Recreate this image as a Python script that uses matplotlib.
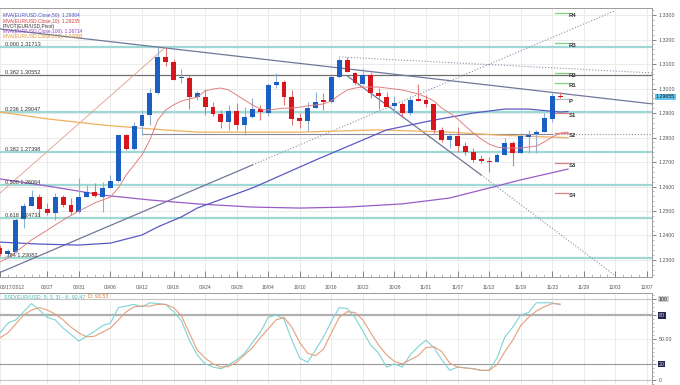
import matplotlib
matplotlib.use("Agg")
import matplotlib.pyplot as plt
from matplotlib.ticker import MultipleLocator

plt.rcParams['font.family'] = ['Liberation Sans', 'DejaVu Sans']

# x axis labels (bar index -> label)
tick_pos = [0, 6, 10, 14, 18, 22, 26, 30, 34, 38, 42, 46, 50, 54, 58, 62, 66, 70, 74, 78, 82]
tick_labels = ["08/17/2012", "08/27", "08/31", "09/06", "09/12", "09/18", "09/24", "09/28",
               "10/04", "10/10", "10/16", "10/22", "10/26", "11/01", "11/07", "11/13",
               "11/19", "11/23", "11/29", "12/03", "12/07"]

# daily candles EUR/USD, 08/17 .. 11/26
opens = [1.2349, 1.2325, 1.2333, 1.2467, 1.2520, 1.2557, 1.2508, 1.2492, 1.2557, 1.2524,
         1.2496, 1.2557, 1.2578, 1.2557, 1.2594, 1.2622, 1.2810, 1.2753, 1.2847, 1.2892,
         1.2982, 1.3128, 1.3108, 1.3043, 1.3043, 1.2965, 1.2967, 1.2924, 1.2896, 1.2863,
         1.2908, 1.2851, 1.2884, 1.2916, 1.2900, 1.3014, 1.3026, 1.2965, 1.2880, 1.2868,
         1.2920, 1.2953, 1.2945, 1.3047, 1.3116, 1.3063, 1.3018, 1.3055, 1.2982, 1.2967,
         1.2929, 1.2937, 1.2900, 1.2957, 1.2953, 1.2937, 1.2831, 1.2790, 1.2806, 1.2765,
         1.2741, 1.2712, 1.2704, 1.2700, 1.2729, 1.2778, 1.2737, 1.2802, 1.2814, 1.2822,
         1.2876, 1.2970]
highs = [1.2361, 1.2345, 1.2471, 1.2531, 1.2586, 1.2569, 1.2533, 1.2573, 1.2565, 1.2553,
         1.2635, 1.2606, 1.2614, 1.2618, 1.2647, 1.2812, 1.2814, 1.2863, 1.2912, 1.3002,
         1.3169, 1.3171, 1.3120, 1.3080, 1.3055, 1.2990, 1.2998, 1.2945, 1.2912, 1.2933,
         1.2941, 1.2925, 1.2961, 1.2933, 1.3022, 1.3063, 1.3035, 1.2994, 1.2900, 1.2945,
         1.2986, 1.2982, 1.3055, 1.3124, 1.3128, 1.3067, 1.3084, 1.3067, 1.3002, 1.2986,
         1.2969, 1.2945, 1.2969, 1.3018, 1.2973, 1.2937, 1.2843, 1.2818, 1.2843, 1.2782,
         1.2757, 1.2729, 1.2720, 1.2737, 1.2798, 1.2786, 1.2810, 1.2831, 1.2831, 1.2900,
         1.2986, 1.2986]
lows = [1.2316, 1.2308, 1.2329, 1.2431, 1.2520, 1.2480, 1.2484, 1.2463, 1.2516, 1.2484,
        1.2492, 1.2557, 1.2557, 1.2496, 1.2594, 1.2620, 1.2750, 1.2750, 1.2810, 1.2851,
        1.2978, 1.3092, 1.3035, 1.3022, 1.2916, 1.2955, 1.2892, 1.2888, 1.2839, 1.2831,
        1.2831, 1.2810, 1.2880, 1.2871, 1.2888, 1.3002, 1.2933, 1.2851, 1.2839, 1.2827,
        1.2920, 1.2912, 1.2941, 1.3043, 1.3067, 1.3014, 1.3014, 1.2961, 1.2916, 1.2924,
        1.2900, 1.2884, 1.2892, 1.2949, 1.2924, 1.2818, 1.2782, 1.2757, 1.2741, 1.2729,
        1.2700, 1.2696, 1.2659, 1.2700, 1.2729, 1.2684, 1.2737, 1.2737, 1.2737, 1.2822,
        1.2863, 1.2961]
closes = [1.2325, 1.2337, 1.2463, 1.2522, 1.2557, 1.2508, 1.2492, 1.2557, 1.2524, 1.2496,
          1.2557, 1.2578, 1.2560, 1.2594, 1.2622, 1.2810, 1.2753, 1.2847, 1.2892, 1.2982,
          1.3128, 1.3108, 1.3035, 1.3047, 1.2965, 1.2982, 1.2924, 1.2896, 1.2863, 1.2908,
          1.2851, 1.2884, 1.2916, 1.2904, 1.3014, 1.3026, 1.2965, 1.2876, 1.2868, 1.2920,
          1.2945, 1.2945, 1.3047, 1.3116, 1.3067, 1.3022, 1.3055, 1.2982, 1.2970, 1.2924,
          1.2941, 1.2900, 1.2953, 1.2949, 1.2937, 1.2831, 1.2790, 1.2806, 1.2765, 1.2741,
          1.2708, 1.2704, 1.2700, 1.2729, 1.2778, 1.2737, 1.2806, 1.2810, 1.2822, 1.2880,
          1.2969, 1.2966]

# moving averages
ma10 = [1.2292, 1.2308, 1.2333, 1.2357, 1.2382, 1.2402, 1.2422, 1.2443, 1.2463, 1.2482,
        1.2500, 1.2516, 1.2533, 1.2545, 1.2557, 1.2594, 1.2647, 1.2688, 1.2729, 1.2790,
        1.2871, 1.2912, 1.2933, 1.2949, 1.2957, 1.2965, 1.2990, 1.2998, 1.3002, 1.2994,
        1.2973, 1.2953, 1.2933, 1.2916, 1.2912, 1.2916, 1.2920, 1.2920, 1.2924, 1.2929,
        1.2933, 1.2937, 1.2949, 1.2973, 1.2994, 1.3002, 1.3006, 1.3006, 1.3006, 1.3002,
        1.2998, 1.2994, 1.2986, 1.2978, 1.2965, 1.2949, 1.2920, 1.2900, 1.2876, 1.2847,
        1.2818, 1.2794, 1.2773, 1.2761, 1.2757, 1.2757, 1.2757, 1.2761, 1.2765, 1.2782,
        1.2802, 1.2818, 1.2822]
ma50_idx = [0, 5, 10, 14, 18, 20, 23, 25, 32, 40, 49, 55, 60, 64, 67, 71, 72]
ma50 = [1.2373, 1.2365, 1.2361, 1.2369, 1.2402, 1.2435, 1.2476, 1.2512, 1.2594, 1.2708,
        1.2831, 1.2871, 1.2900, 1.2916, 1.2916, 1.2904, 1.2906]
ma100_idx = [0, 6, 13, 19, 25, 32, 38, 44, 51, 57, 63, 66, 72]
ma100 = [1.2631, 1.2602, 1.2565, 1.2545, 1.2529, 1.2516, 1.2512, 1.2516, 1.2529, 1.2553,
         1.2602, 1.2627, 1.2671]
ma200_idx = [0, 6, 13, 19, 25, 38, 48, 57, 63, 72]
ma200 = [1.2904, 1.2876, 1.2851, 1.2835, 1.2822, 1.2822, 1.2831, 1.2822, 1.2810, 1.2799]

# fibonacci levels
fib_labels = ["0.000 1.31713", "0.382 1.30552", "0.236 1.29047", "0.382 1.27398",
              "0.500 1.26064", "0.618 1.24731", ".764 1.23082"]
fib_levels = [1.31713, 1.30552, 1.29047, 1.27398, 1.26064, 1.24731, 1.23082]

# pivot levels
pivot_names = ["R4", "R3", "R2", "R1", "P", "S1", "S2", "S3", "S4"]
pivot_levels = [1.3308, 1.3186, 1.3063, 1.3022, 1.2957, 1.2900, 1.2818, 1.2696, 1.2573]

# trendlines: (start idx, start price, end idx, end price, style)
trend_lines = [
    (0, 1.2249, 32, 1.2688, '-'),
    (32, 1.2688, 78, 1.3318, ':'),
    (0, 1.3243, 83, 1.2936, '-'),
    (44, 1.3052, 61, 1.2647, '-'),
    (61, 1.2647, 78, 1.2236, ':'),
    (43, 1.3129, 83, 1.3063, ':'),
    (0, 1.2573, 21, 1.3169, '-'),
]
support_level = 1.2814

# slow stochastic
stoch_k = [58, 70, 74, 84, 94, 86, 77, 74, 64, 56, 48, 54, 60, 67, 70, 89, 91, 93, 90, 95,
           94, 93, 84, 73, 49, 31, 20, 16, 14, 19, 25, 33, 46, 59, 77, 80, 75, 49, 27, 22,
           37, 53, 72, 89, 88, 77, 60, 43, 33, 16, 20, 16, 31, 41, 49, 40, 25, 12, 16, 15,
           14, 12, 12, 27, 53, 65, 80, 83, 95, 95, 95, 92.5]
stoch_d = [52, 58, 69, 80, 86, 89, 86, 81, 74, 65, 58, 53, 54, 59, 64, 74, 84, 90, 91, 91,
           93, 93, 89, 79, 58, 37, 27, 20, 16, 17, 22, 31, 40, 52, 63, 74, 77, 65, 46, 33,
           30, 38, 58, 77, 84, 83, 74, 58, 43, 31, 23, 20, 25, 30, 40, 41, 35, 21, 16, 15,
           14, 12, 12, 19, 35, 49, 67, 77, 85, 90, 94, 93.5]

BLUE, RED = '#1b5fc2', '#d8141c'
TEAL_FIB = '#9fd9d6'

fig = plt.figure(figsize=(6.8, 3.85), dpi=100)
ax = fig.add_axes([0, 108 / 385, 652 / 680, 269 / 385])
ax2 = fig.add_axes([0, 0, 652 / 680, 92 / 385])

for a in (ax, ax2):
    a.set_xlim(0.11, 82.65)
    a.set_facecolor('white')
    a.set_xticks(tick_pos)
    a.xaxis.set_minor_locator(MultipleLocator(1))
    a.grid(True, which='major', color='#e8e8e8', lw=0.6)
    a.set_axisbelow(True)
    a.yaxis.tick_right()
    a.spines['left'].set_visible(False)
    for s in ('top', 'right', 'bottom'):
        a.spines[s].set_color('#9a9a9a')
        a.spines[s].set_linewidth(0.7)
    a.tick_params(axis='y', labelsize=3.8, colors='#555555', length=3, width=0.5, pad=2)
    a.tick_params(axis='y', which='minor', length=1.5, width=0.4, colors='#888888')

ax.set_ylim(1.22306, 1.33286)
ax.yaxis.set_major_locator(MultipleLocator(0.01))
ax.yaxis.set_minor_locator(MultipleLocator(0.002))
ax.yaxis.set_major_formatter(lambda v, p: f"{v:.4f}")

ax.set_xticklabels(tick_labels)
ax.tick_params(axis='x', which='major', direction='in', length=4, width=0.5,
               labelsize=3.6, colors='#555555', pad=6)
ax.tick_params(axis='x', which='minor', direction='in', length=2, width=0.4, colors='#888888')
ax.get_xticklabels()[0].set_horizontalalignment('left')

# fibonacci
for lab, lv in zip(fib_labels, fib_levels):
    if lab.startswith("0.382 1.305"):
        ax.axhline(lv, color='#6e6e6e', lw=0.9, zorder=1)
    else:
        ax.axhline(lv, color=TEAL_FIB, lw=1.6, zorder=1)
    ax.text(0.6, lv, lab, fontsize=4, color='#333333', va='bottom', ha='left', zorder=6)

# support line
ax.plot([18, 70], [support_level, support_level], color='#8a8a9a', lw=0.8, zorder=2)
ax.plot([70, 82.65], [support_level, support_level], color='#8a8a9a', lw=0.8, ls=':', zorder=2)

# trendlines
for k, (i0, p0, i1, p1, ls) in enumerate(trend_lines):
    col = '#e39a8c' if k == 6 else '#6f7898'
    lw = 0.6 if k == 6 else 0.9
    if ls == ':':
        col, lw = '#8a8fa8', 0.8
    ax.plot([i0, i1], [p0, p1], color=col, lw=lw, ls=ls, zorder=2)

# moving averages
ax.plot(ma200_idx, ma200, color='#f0b060', lw=0.9, zorder=2)
ax.plot(ma100_idx, ma100, color='#9a5cc8', lw=0.9, zorder=2)
ax.plot(ma50_idx, ma50, color='#5a5ac4', lw=0.9, zorder=2)

# candles
for i, (o, h, l, c) in enumerate(zip(opens, highs, lows, closes)):
    up = c >= o
    ax.vlines(i, l, h, color='#8fb0d0' if up else '#e07878', lw=0.8, zorder=3)
    body = max(abs(c - o), 0.0003)
    ax.bar(i, body, bottom=min(o, c), width=0.62, color=BLUE if up else RED, zorder=4)

ax.plot(range(len(ma10)), ma10, color='#e08080', lw=0.7, zorder=5)

# pivots
for name, lv in zip(pivot_names, pivot_levels):
    col = '#7fd07f' if name.startswith('R') else ('#bbbbbb' if name == 'P' else '#e08080')
    ax.plot([70.3, 72.0], [lv, lv], color=col, lw=0.9, zorder=5)
    ax.annotate(name, xy=(72.1, lv), xytext=(0, -1.5), textcoords='offset points',
                fontsize=4.3, color='#333333', fontweight='bold', va='center', ha='left')

# last price tag
ax.annotate('1.29655', xy=(1.0, 1.29655), xycoords=('axes fraction', 'data'),
            xytext=(2.5, 0), textcoords='offset points', fontsize=3.8, color='#1a1a1a',
            va='center', ha='left', annotation_clip=False,
            bbox=dict(boxstyle='square,pad=0.15', fc='#5fc7f0', ec='none'))

# legend of the main panel
legend_rows = [("MVA(EUR/USD.Close,50): 1.29064", '#4b4bbb'),
               ("MVA(EUR/USD.Close,10): 1.28235", '#d33a3a'),
               ("PIVOT(EUR/USD,Pivot)", '#333333'),
               ("MVA(EUR/USD.Close,100): 1.26714", '#9040c0'),
               ("MVA(EUR/USD.Close,200): 1.27993", '#e0962e')]
for r, (txt, col) in enumerate(legend_rows):
    fig.text(3 / 680, 1 - (16 + 5.2 * r) / 385, txt, fontsize=3.5, color=col,
             va='center', ha='left')

# stochastic panel
ax2.set_ylim(-6, 107)
ax2.set_yticks([0, 20, 50, 80, 100])
ax2.set_yticklabels(['0', '20', '50.00', '80', '100'])
ax2.yaxis.set_minor_locator(MultipleLocator(5))
ax2.tick_params(axis='x', which='both', labelbottom=False, length=0)
ax2.grid(True, axis='y', color='#eeeeee', lw=0.6)
ax2.axhline(100, color='#c4c4c4', lw=0.8)
ax2.axhline(80, color='#b0b0b0', lw=1.6)
ax2.axhline(20, color='#999999', lw=0.8)
ax2.axhline(0, color='#c4c4c4', lw=0.8)
ax2.plot(range(len(stoch_k)), stoch_k, color='#7fd3d3', lw=0.8)
ax2.plot(range(len(stoch_d)), stoch_d, color='#e3a07e', lw=0.8)
for lbl in ax2.get_yticklabels():
    if lbl.get_text() in ('80', '20'):
        lbl.set_color('#dddddd')
        lbl.set_bbox(dict(boxstyle='square,pad=0.12', fc='#262650', ec='none'))
    elif lbl.get_text() == '100':
        lbl.set_color('#222222')
        lbl.set_bbox(dict(boxstyle='square,pad=0.12', fc='#cfcfcf', ec='none'))

fig.text(4 / 680, 1 - 297 / 385, "SSD(EUR/USD, 5, 3, 3) - K: 92.47", fontsize=3.9,
         color='#45b8b8', va='center', ha='left')
fig.text(88 / 680, 1 - 297 / 385, "D: 93.53", fontsize=3.9, color='#e07a3a', va='center', ha='left')

fig.savefig('out.png', dpi=100, facecolor='white')
